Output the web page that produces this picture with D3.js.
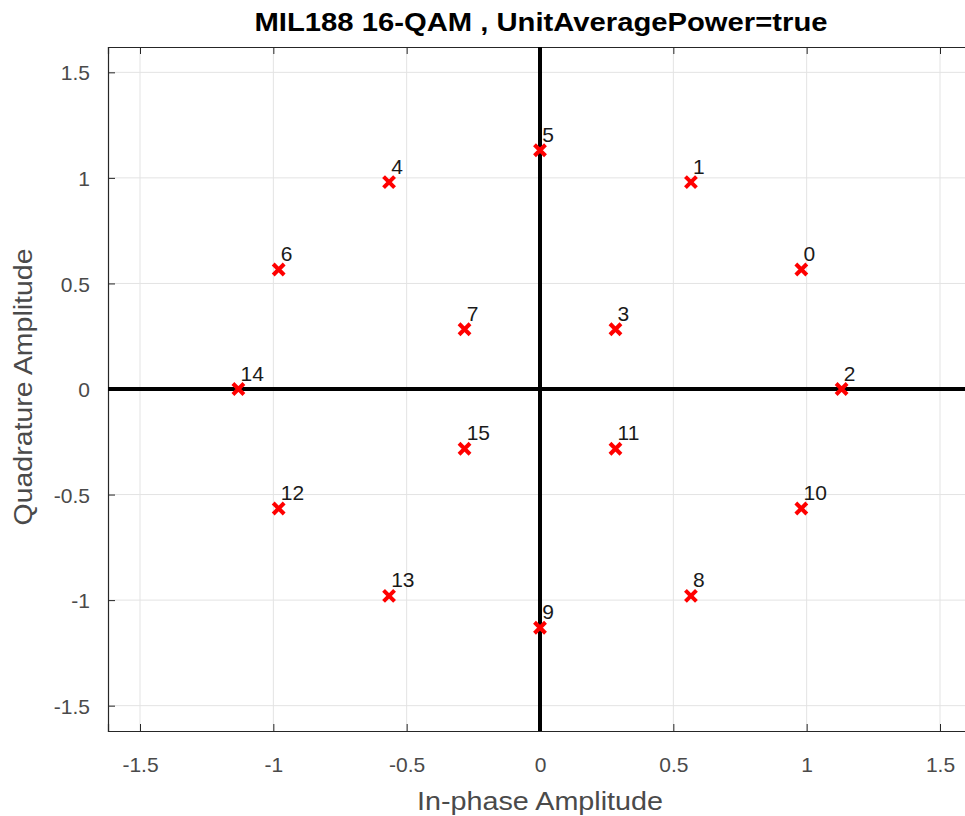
<!DOCTYPE html>
<html lang="en">
<head>
    <meta charset="UTF-8">
    <title>MIL188 16-QAM</title>
    <style>
        body { margin: 0; background: #fff; }
        svg { display: block; font-family: "Liberation Sans", Arial, sans-serif; }
    </style>
</head>
<body>
    <svg width="965" height="816"></svg>
    <script src="https://cdn.jsdelivr.net/npm/d3@7"></script>
    <script>
        // constellation points (symbol index, in-phase, quadrature)
        const symbols = [0, 1, 2, 3, 4, 5, 6, 7, 8, 9, 10, 11, 12, 13, 14, 15];
        const inPhase = [0.980, 0.566, 1.131, 0.283, -0.566, 0.000, -0.980, -0.283,
                         0.566, 0.000, 0.980, 0.283, -0.980, -0.566, -1.131, -0.283];
        const quadrature = [0.566, 0.980, 0.000, 0.283, 0.980, 1.131, 0.566, 0.283,
                            -0.980, -1.131, -0.566, -0.283, -0.566, -0.980, 0.000, -0.283];
        const tickValues = [-1.5, -1, -0.5, 0, 0.5, 1, 1.5];
        const axisLimit = [-1.62, 1.62];

        var svg = d3.select('svg');
        // plot box (right edge runs past the picture like the original)
        var mLeft = 108, mTop = 47, mRight = 972, mBottom = 731;

        var x = d3.scaleLinear().domain(axisLimit).range([mLeft, mRight]);
        var y = d3.scaleLinear().domain(axisLimit).range([mBottom, mTop]);

        var axisColor = '#262626';
        var fmt = d => String(d); // hyphen minus like matlab

        // grid
        var grid = svg.append('g');
        grid.selectAll('.gx').data(tickValues).enter().append('line')
            .attr('x1', d => x(d)).attr('x2', d => x(d))
            .attr('y1', mTop).attr('y2', mBottom)
            .attr('stroke', '#e3e3e3').attr('stroke-width', 1);
        grid.selectAll('.gy').data(tickValues).enter().append('line')
            .attr('y1', d => y(d)).attr('y2', d => y(d))
            .attr('x1', mLeft).attr('x2', mRight)
            .attr('stroke', '#e3e3e3').attr('stroke-width', 1);

        // axes (ticks inward)
        var xAxis = d3.axisBottom(x).tickValues(tickValues).tickSize(-7).tickFormat(fmt);
        var yAxis = d3.axisLeft(y).tickValues(tickValues).tickSize(-7).tickPadding(18).tickFormat(fmt);

        var gx = svg.append('g').attr('transform', 'translate(0,' + mBottom + ')').call(xAxis);
        var gy = svg.append('g').attr('transform', 'translate(' + mLeft + ',0)').call(yAxis);
        var gTop = svg.append('g').attr('transform', 'translate(0,' + mTop + ')')
            .call(d3.axisTop(x).tickValues(tickValues).tickSize(-7).tickFormat(''));

        [gx, gy, gTop].forEach(function (g) {
            g.select('.domain').attr('stroke', axisColor).attr('stroke-width', 1.2);
            g.selectAll('.tick line').attr('stroke', axisColor);
            g.selectAll('.tick text').attr('fill', '#4a4a4a').attr('font-size', 21)
                .attr('font-family', '"Liberation Sans", Arial, sans-serif');
        });
        gx.selectAll('.tick text').attr('y', 41).attr('dy', 0);
        gy.selectAll('.tick text').attr('dy', '0.36em');

        // zero lines
        svg.append('line')
            .attr('x1', x(0)).attr('x2', x(0)).attr('y1', mTop).attr('y2', mBottom)
            .attr('stroke', '#000').attr('stroke-width', 4);
        svg.append('line')
            .attr('x1', mLeft).attr('x2', mRight).attr('y1', y(0)).attr('y2', y(0))
            .attr('stroke', '#000').attr('stroke-width', 4);

        // markers
        var s = 5.5;
        var pts = svg.append('g').selectAll('g').data(symbols).enter().append('g')
            .attr('transform', (d, i) => 'translate(' + x(inPhase[i]) + ',' + y(quadrature[i]) + ')');
        pts.append('path')
            .attr('d', 'M' + (-s) + ',' + (-s) + 'L' + s + ',' + s + 'M' + (-s) + ',' + s + 'L' + s + ',' + (-s))
            .attr('stroke', '#ff0000').attr('stroke-width', 4).attr('fill', 'none');

        // symbol labels
        svg.append('g').selectAll('text').data(symbols).enter().append('text')
            .attr('x', (d, i) => x(inPhase[i] + 0.008))
            .attr('y', (d, i) => y(quadrature[i] + 0.04))
            .attr('font-size', 21)
            .attr('fill', '#1a1a1a')
            .text(d => d);

        // title and labels (original picture is a bit stretched)
        svg.append('text')
            .attr('x', 541).attr('y', 31)
            .attr('text-anchor', 'middle')
            .attr('font-size', 25).attr('font-weight', 'bold').attr('fill', '#000')
            .attr('textLength', 573).attr('lengthAdjust', 'spacingAndGlyphs')
            .text('MIL188 16-QAM , UnitAveragePower=true');

        svg.append('text')
            .attr('x', 540).attr('y', 810)
            .attr('text-anchor', 'middle')
            .attr('font-size', 26).attr('fill', '#4a4a4a')
            .attr('textLength', 246).attr('lengthAdjust', 'spacingAndGlyphs')
            .text('In-phase Amplitude');

        svg.append('text')
            .attr('transform', 'translate(32,387) rotate(-90)')
            .attr('text-anchor', 'middle')
            .attr('font-size', 26).attr('fill', '#4a4a4a')
            .attr('textLength', 277).attr('lengthAdjust', 'spacingAndGlyphs')
            .text('Quadrature Amplitude');
    </script>
</body>
</html>
